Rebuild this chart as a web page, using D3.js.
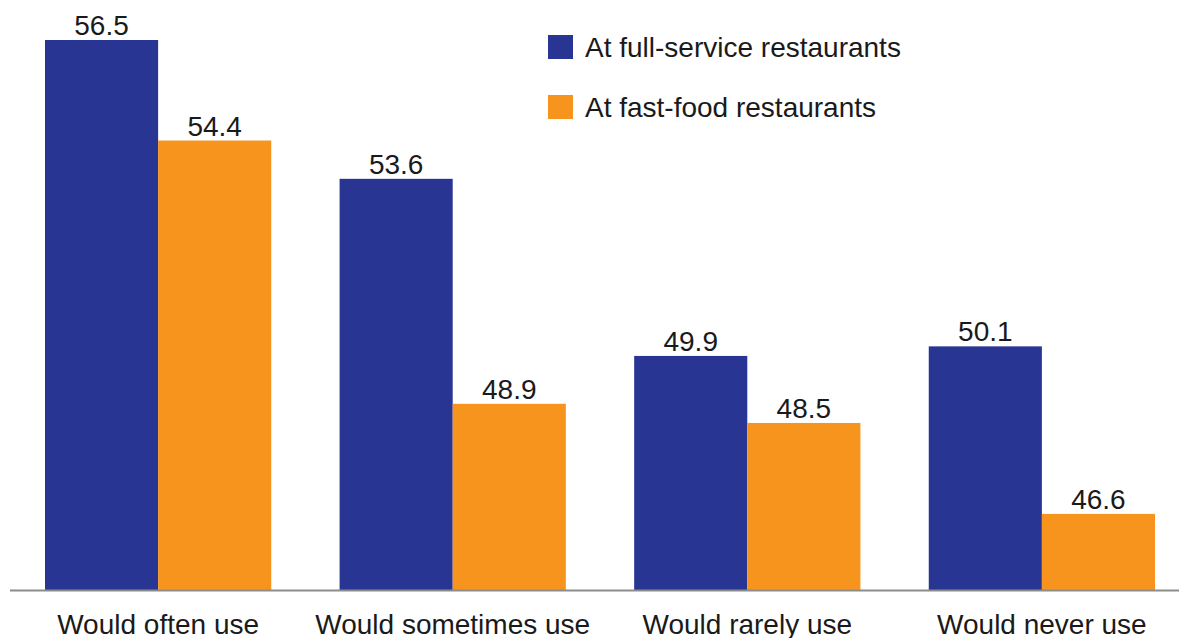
<!DOCTYPE html>
<html>
<head>
<meta charset="utf-8">
<script src="https://cdn.jsdelivr.net/npm/d3@7/dist/d3.min.js"></script>
<style>
  html, body { margin: 0; padding: 0; background: #fff; }
  svg { display: block; }
  text { font-family: "Liberation Sans", Arial, Helvetica, sans-serif; fill: #1a1a1a; }
</style>
</head>
<body>
<svg id="chart" width="1179" height="638"></svg>
<script>
// Chart data
const categories = ["Would often use", "Would sometimes use", "Would rarely use", "Would never use"];
const seriesNames = ["At full-service restaurants", "At fast-food restaurants"];
const fullService = [56.5, 53.6, 49.9, 50.1];
const fastFood = [54.4, 48.9, 48.5, 46.6];
const seriesColors = ["#283593", "#f7941d"];

const seriesValues = [fullService, fastFood];
const rows = categories.map((c, i) => ({
  category: c,
  values: seriesNames.map((s, j) => ({ series: s, index: j, value: seriesValues[j][i] }))
}));

const svg = d3.select("#chart");
const W = 1179, H = 638;
const baseY = 590.5;

const x0 = d3.scaleBand()
  .domain(categories)
  .range([45, 1155])
  .paddingInner(0.232)
  .paddingOuter(0);

const x1 = d3.scaleBand()
  .domain(d3.range(seriesNames.length))
  .range([0, x0.bandwidth()])
  .padding(0);

const y = d3.scaleLinear()
  .domain([45, 56.5])
  .range([baseY, 40]);

const color = d3.scaleOrdinal().domain(d3.range(seriesNames.length)).range(seriesColors);

// Bars and value labels
const groups = svg.append("g").selectAll("g")
  .data(rows)
  .join("g")
  .attr("transform", d => `translate(${x0(d.category)},0)`);

groups.selectAll("rect")
  .data(d => d.values)
  .join("rect")
  .attr("x", d => x1(d.index))
  .attr("y", d => y(d.value))
  .attr("width", x1.bandwidth())
  .attr("height", d => baseY - y(d.value))
  .attr("fill", d => color(d.index));

groups.selectAll("text")
  .data(d => d.values)
  .join("text")
  .attr("x", d => x1(d.index) + x1.bandwidth() / 2)
  .attr("y", d => y(d.value) - 5)
  .attr("text-anchor", "middle")
  .attr("font-size", 28)
  .text(d => d.value.toFixed(1));

// Category axis
const xAxis = d3.axisBottom(x0).tickSize(0).tickPadding(0);
const axisG = svg.append("g")
  .attr("transform", `translate(0,${baseY})`)
  .call(xAxis);
axisG.select(".domain").remove();
axisG.selectAll("text")
  .attr("dy", null)
  .attr("y", 43)
  .attr("font-size", 28)
  .attr("fill", "#1a1a1a")
  .style("font-family", '"Liberation Sans", Arial, Helvetica, sans-serif');

svg.append("line")
  .attr("x1", 10).attr("x2", W)
  .attr("y1", baseY).attr("y2", baseY)
  .attr("stroke", "#8c8c8c")
  .attr("stroke-width", 2);

// Legend
const legend = svg.append("g").attr("transform", "translate(548,0)");
const legendItems = legend.selectAll("g")
  .data(seriesNames)
  .join("g")
  .attr("transform", (d, i) => `translate(0,${35 + i * 60})`);

legendItems.append("rect")
  .attr("width", 25)
  .attr("height", 24)
  .attr("fill", (d, i) => color(i));

legendItems.append("text")
  .attr("x", 37)
  .attr("y", 22)
  .attr("font-size", 28)
  .text(d => d);
</script>
</body>
</html>
